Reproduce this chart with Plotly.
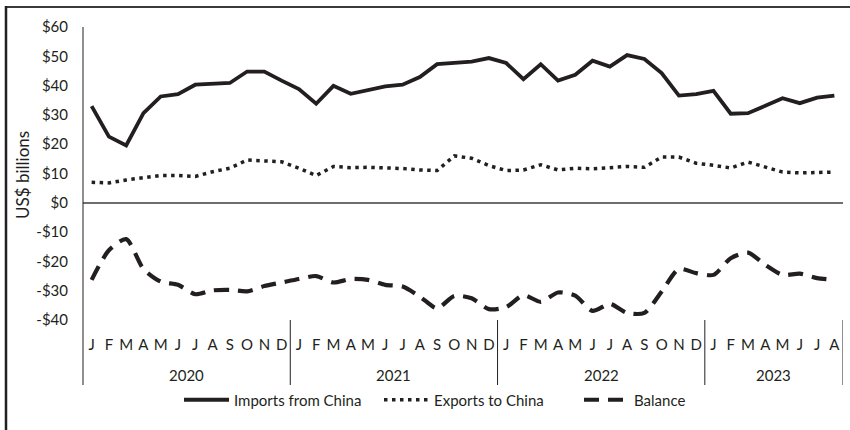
import plotly.graph_objects as go

years = [2020, 2021, 2022, 2023]
month_letters = ["J", "F", "M", "A", "M", "J", "J", "A", "S", "O", "N", "D"]
months_per_year = [12, 12, 12, 8]

imports = [33.0, 22.6, 19.6, 30.6, 36.3, 37.1, 40.3, 40.5, 40.9, 44.8, 44.8, 41.7,
           38.8, 33.8, 39.9, 37.2, 38.6, 39.7, 40.3, 42.9, 47.3, 47.9, 48.2, 49.4,
           47.7, 42.2, 47.3, 41.7, 43.7, 48.5, 46.5, 50.4, 49.1, 44.3, 36.6, 37.1,
           38.2, 30.4, 30.6, 33.1, 35.7, 34.0, 35.9, 36.6]
exports = [7.0, 6.8, 7.8, 8.4, 9.3, 9.3, 9.0, 10.6, 11.8, 14.6, 14.3, 14.0,
           11.8, 9.3, 12.4, 12.0, 12.1, 12.0, 11.7, 11.2, 11.0, 16.0, 15.2, 12.7,
           11.0, 11.2, 13.0, 11.2, 11.8, 11.6, 12.1, 12.4, 12.1, 15.6, 15.6, 13.5,
           12.8, 11.9, 13.9, 12.1, 10.5, 10.2, 10.4, 10.5]
balance = [-26.3, -16.2, -12.4, -22.6, -26.9, -28.0, -31.2, -29.9, -29.7, -30.2, -28.4, -27.2,
           -26.0, -25.0, -27.2, -26.0, -26.3, -28.0, -28.6, -32.0, -36.0, -31.8, -32.6, -36.3,
           -35.6, -31.5, -33.8, -30.6, -31.7, -36.9, -34.5, -37.6, -37.6, -30.3, -22.6, -24.0,
           -24.6, -18.9, -17.0, -21.2, -24.6, -24.2, -25.7, -26.3]

y_ticks = [60, 50, 40, 30, 20, 10, 0, -10, -20, -30, -40]

cats, tick_text = [], []
for yr, n in zip(years, months_per_year):
    for m in range(n):
        cats.append(f"{yr}-{m + 1:02d}")
        tick_text.append(month_letters[m])

INK = "#231F20"
FONT = "Lato, 'Open Sans', sans-serif"
FS = 15

# plot area in pixels: x 83..843, y 27..320
L, R, T, B = 83, 843, 27, 320
PW, PH = R - L, B - T


def px_x(x):
    return (x - L) / PW


def px_y(y):
    return (B - y) / PH


fig = go.Figure()
fig.add_trace(go.Scatter(x=cats, y=imports, name="Imports from China", mode="lines",
                         line=dict(color=INK, width=3.8)))
fig.add_trace(go.Scatter(x=cats, y=exports, name="Exports to China", mode="lines",
                         line=dict(color=INK, width=3.5, dash="3.5px,4.5px")))
fig.add_trace(go.Scatter(x=cats, y=balance, name="Balance", mode="lines",
                         line=dict(color=INK, width=4.2, dash="15px,9px", shape="spline", smoothing=0.7)))

ext = px_y(385)

shapes = []
shapes.append(dict(type="line", xref="paper", yref="paper", x0=0, x1=0, y0=1, y1=ext,
                   line=dict(color=INK, width=1)))
pos = -0.5
for n in months_per_year:
    pos += n
    shapes.append(dict(type="line", xref="x", yref="paper", x0=pos, x1=pos, y0=0, y1=ext,
                       line=dict(color=INK, width=1)))
# outer border (top and left visible)
shapes.append(dict(type="line", xref="paper", yref="paper",
                   x0=px_x(5), x1=px_x(852), y0=px_y(7), y1=px_y(7),
                   line=dict(color="#3a3a3a", width=2)))
shapes.append(dict(type="line", xref="paper", yref="paper",
                   x0=px_x(6), x1=px_x(6), y0=px_y(6), y1=px_y(432),
                   line=dict(color=INK, width=2.5)))

annotations = []
start = 0
for yr, n in zip(years, months_per_year):
    center = start + (n - 1) / 2
    annotations.append(dict(x=center, y=px_y(375), xref="x", yref="paper", text=str(yr),
                            yanchor="middle", showarrow=False,
                            font=dict(size=FS, color=INK, family=FONT)))
    start += n
annotations.append(dict(x=px_x(22), y=px_y(175), xref="paper", yref="paper",
                        text="US$ billions", textangle=-90, showarrow=False,
                        xanchor="center", yanchor="middle",
                        font=dict(size=17, color=INK, family=FONT)))

fig.update_layout(
    width=850, height=430,
    margin=dict(l=L, r=850 - R, t=T, b=430 - B),
    paper_bgcolor="white", plot_bgcolor="white",
    font=dict(family=FONT, size=FS, color=INK),
    showlegend=True,
    legend=dict(orientation="h", x=px_x(479), xanchor="center", y=px_y(400), yanchor="middle",
                font=dict(size=FS, color=INK, family=FONT), itemwidth=45, traceorder="normal",
                entrywidth=140, entrywidthmode="pixels",
                bgcolor="rgba(0,0,0,0)"),
    shapes=shapes, annotations=annotations,
)
fig.update_xaxes(type="category", categoryorder="array", categoryarray=cats,
                 tickmode="array", tickvals=cats, ticktext=tick_text,
                 range=[-0.5, len(cats) - 0.5], showgrid=False, zeroline=False, showline=False,
                 ticks="", ticklabelstandoff=14, tickfont=dict(size=FS, color=INK, family=FONT))
fig.update_yaxes(range=[-40, 60], tickmode="array", tickvals=y_ticks,
                 ticktext=[f"${v}" if v >= 0 else f"-${-v}" for v in y_ticks],
                 showgrid=False, zeroline=True, zerolinecolor="#6e6e6e", zerolinewidth=2,
                 showline=False, ticks="", ticklabelstandoff=14,
                 tickfont=dict(size=FS, color=INK, family=FONT))

fig.write_html("out.html", config={"displayModeBar": False},
               post_script="document.body.style.margin='0';")
